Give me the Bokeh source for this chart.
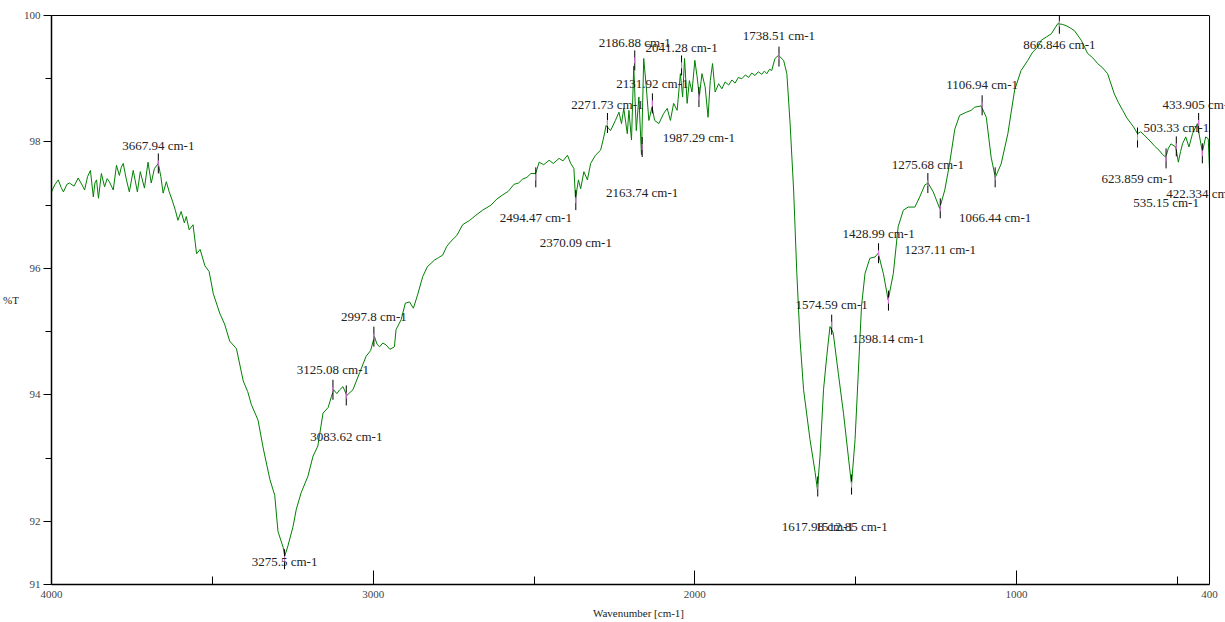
from bokeh.plotting import figure
from bokeh.models import Range1d, FixedTicker, ColumnDataSource, LabelSet, LinearAxis, Span
from bokeh.core.properties import value
from bokeh.embed import file_html
from bokeh.resources import INLINE

# ---- spectrum (wavenumber cm-1, %T) ----
wavenumber = [
    4000, 3990, 3979, 3970, 3963, 3952, 3944, 3930, 3917, 3905, 3897, 3888, 3879, 3870,
    3865, 3860, 3854, 3845, 3835, 3827, 3820, 3808, 3798, 3789, 3783, 3777, 3767, 3758,
    3746, 3733, 3724, 3711, 3700, 3690, 3680, 3668, 3660, 3653, 3643, 3634, 3625, 3615,
    3607, 3597, 3587, 3581, 3572, 3560, 3553, 3549, 3538, 3523, 3510, 3497, 3477, 3462,
    3446, 3425, 3404, 3390, 3379, 3358, 3342, 3321, 3306, 3296, 3280, 3275, 3265, 3249,
    3239, 3224, 3203, 3187, 3172, 3156, 3140, 3130, 3123, 3113, 3104, 3094, 3082, 3063,
    3042, 3022, 3008, 2996, 2988, 2980, 2970, 2960, 2948, 2934, 2929, 2913, 2900, 2887,
    2875, 2862, 2846, 2831, 2820, 2810, 2797, 2784, 2771, 2758, 2740, 2722, 2700, 2681,
    2660, 2634, 2615, 2598, 2580, 2562, 2548, 2536, 2522, 2510, 2495, 2484, 2470, 2453,
    2440, 2422, 2410, 2396, 2386, 2376, 2371, 2362, 2355, 2345, 2334, 2324, 2309, 2293,
    2283, 2276, 2262, 2247, 2236, 2228, 2221, 2210, 2205, 2197, 2190, 2182, 2174, 2166,
    2159, 2151, 2143, 2133, 2125, 2112, 2097, 2086, 2076, 2066, 2055, 2045, 2038, 2032,
    2024, 2017, 2009, 2000, 1993, 1986, 1978, 1968, 1959, 1952, 1945, 1937, 1926, 1916,
    1906, 1895, 1885, 1875, 1865, 1854, 1843, 1833, 1823, 1813, 1803, 1792, 1784, 1776,
    1768, 1761, 1751, 1740, 1724, 1714, 1704, 1693, 1683, 1673, 1662, 1642, 1626, 1619,
    1611, 1600, 1590, 1580, 1570, 1554, 1538, 1523, 1513, 1502, 1492, 1482, 1471, 1456,
    1440, 1430, 1414, 1399, 1383, 1368, 1352, 1337, 1316, 1301, 1285, 1275, 1259, 1239,
    1223, 1208, 1192, 1177, 1156, 1141, 1130, 1110, 1094, 1079, 1066, 1048, 1027, 1006,
    986, 965, 950, 934, 923, 907, 892, 872, 858, 846, 832, 820, 799, 779, 763, 748, 732,
    717, 696, 683, 670, 657, 644, 634, 624, 614, 603, 592, 582, 570, 557, 546, 536, 528,
    520, 505, 497, 490, 484, 474, 464, 453, 438, 427, 422, 412, 404, 400,
]
transmittance = [
    97.21, 97.32, 97.40, 97.28, 97.21, 97.33, 97.35, 97.30, 97.43, 97.32, 97.24, 97.45, 97.55, 97.13,
    97.35, 97.40, 97.11, 97.50, 97.29, 97.42, 97.37, 97.24, 97.63, 97.47, 97.60, 97.66, 97.40, 97.21,
    97.55, 97.21, 97.53, 97.27, 97.68, 97.35, 97.58, 97.66, 97.45, 97.19, 97.37, 97.21, 97.08, 96.92,
    96.76, 96.90, 96.72, 96.82, 96.61, 96.69, 96.40, 96.23, 96.30, 96.04, 95.95, 95.60, 95.29, 95.12,
    94.85, 94.73, 94.22, 94.05, 93.85, 93.60, 93.16, 92.66, 92.41, 91.84, 91.59, 91.45, 91.61, 91.92,
    92.19, 92.45, 92.71, 93.03, 93.19, 93.71, 93.80, 93.97, 94.08, 94.02, 94.08, 94.13, 93.99, 94.08,
    94.35, 94.61, 94.70, 94.92, 94.80, 94.76, 94.82, 94.79, 94.72, 94.76, 95.03, 95.19, 95.45, 95.47,
    95.37, 95.58, 95.87, 96.03, 96.08, 96.13, 96.17, 96.21, 96.35, 96.43, 96.52, 96.69, 96.76, 96.84,
    96.92, 97.00, 97.10, 97.16, 97.22, 97.33, 97.35, 97.41, 97.44, 97.50, 97.50, 97.68, 97.64, 97.71,
    97.66, 97.74, 97.70, 97.79, 97.66, 97.58, 97.10, 97.40, 97.26, 97.53, 97.40, 97.66, 97.79, 97.87,
    98.08, 98.26, 98.18, 98.34, 98.47, 98.29, 98.53, 98.13, 98.50, 98.03, 99.20, 98.18, 98.71, 97.80,
    99.32, 98.87, 98.34, 98.55, 98.34, 98.29, 98.45, 98.53, 98.34, 98.61, 98.50, 99.08, 98.71, 99.32,
    98.61, 98.97, 98.79, 99.29, 99.03, 98.72, 99.08, 98.87, 98.39, 98.97, 99.24, 98.79, 98.92, 98.84,
    98.95, 98.90, 98.98, 98.93, 99.02, 99.00, 99.06, 99.02, 99.09, 99.05, 99.11, 99.07, 99.12, 99.08,
    99.15, 99.13, 99.32, 99.37, 99.29, 99.08, 98.30, 97.24, 95.92, 94.87, 94.08, 93.29, 92.77, 92.50,
    93.03, 94.08, 94.61, 95.08, 94.98, 94.34, 93.71, 93.03, 92.58, 93.29, 94.34, 95.40, 95.92, 96.16,
    96.18, 96.24, 95.92, 95.50, 95.92, 96.66, 96.92, 96.97, 96.97, 97.13, 97.32, 97.35, 97.21, 96.95,
    97.24, 97.66, 98.20, 98.42, 98.47, 98.50, 98.55, 98.57, 98.39, 97.76, 97.44, 97.65, 98.13, 98.82,
    99.13, 99.29, 99.42, 99.50, 99.61, 99.66, 99.71, 99.87, 99.86, 99.84, 99.80, 99.76, 99.61, 99.40,
    99.33, 99.24, 99.17, 99.08, 98.76, 98.62, 98.50, 98.38, 98.29, 98.22, 98.13, 98.16, 98.11, 98.05,
    98.00, 97.93, 97.87, 97.80, 97.76, 97.90, 97.97, 97.92, 97.68, 97.85, 97.97, 98.08, 97.92, 98.13,
    98.29, 97.97, 97.85, 98.08, 98.05, 97.55,
]

# ---- annotated peaks ----
peak_wn = [3667.94, 3275.5, 3125.08, 3083.62, 2997.8, 2494.47, 2370.09, 2271.73, 2186.88,
           2163.74, 2131.92, 2041.28, 1987.29, 1738.51, 1617.98, 1574.59, 1512.85, 1428.99,
           1398.14, 1275.68, 1237.11, 1106.94, 1066.44, 866.846, 623.859, 535.15, 503.33,
           433.905, 422.334]
peak_T = [97.66, 91.40, 94.08, 93.99, 94.92, 97.44, 97.08, 98.30, 99.29,
          97.92, 98.61, 99.21, 98.71, 99.35, 92.55, 95.11, 92.58, 96.24,
          95.49, 97.35, 96.95, 98.58, 97.44, 99.87, 98.07, 97.74, 97.93,
          98.30, 97.82]
peak_text = ["3667.94 cm-1", "3275.5 cm-1", "3125.08 cm-1", "3083.62 cm-1", "2997.8 cm-1",
             "2494.47 cm-1", "2370.09 cm-1", "2271.73 cm-1", "2186.88 cm-1", "2163.74 cm-1",
             "2131.92 cm-1", "2041.28 cm-1", "1987.29 cm-1", "1738.51 cm-1", "1617.98 cm-1",
             "1574.59 cm-1", "1512.85 cm-1", "1428.99 cm-1", "1398.14 cm-1", "1275.68 cm-1",
             "1237.11 cm-1", "1106.94 cm-1", "1066.44 cm-1", "866.846 cm-1", "623.859 cm-1",
             "535.15 cm-1", "503.33 cm-1", "433.905 cm-1", "422.334 cm-1"]
# label offsets in screen pixels (layout only)
label_dy = [18, -2, 20, -41, 20, -40, -42, 18, 18, -45, 20, 18, -40, 21, -40, 20, -42, 20,
            -38, 19, -41, 21, -40, -21, -41, -44, 19, 18, -40]

x_ticks = [4000, 3000, 2000, 1000, 400]
x_minor = [3500, 2500, 1500, 500]
y_ticks = [91, 92, 94, 96, 98, 100]
y_minor = [93, 95, 97, 99]
x_first, x_last = 4000, 400
y_low, y_high = 91, 100

FONT = "Liberation Serif"

# geometry (pixels): plot box from x=48 to 1209, y=15 to 584 in a 1225x622 canvas
W, H = 1225, 622
LEFT, RIGHT_BOX, TOP, BOTTOM = 48, 1209, 15, 584
px_per_wn = (RIGHT_BOX - LEFT) / (x_first - x_last)
x_end = x_last - (W - RIGHT_BOX) / px_per_wn   # let labels run past the box to the canvas edge

p = figure(width=W, height=H, x_range=Range1d(x_first, x_end), y_range=Range1d(y_low, y_high),
           output_backend="svg", toolbar_location=None,
           min_border_left=LEFT, min_border_right=0, min_border_top=TOP,
           min_border_bottom=H - BOTTOM)
p.background_fill_color = "white"
p.border_fill_color = "white"
p.outline_line_color = None
p.xgrid.visible = False
p.ygrid.visible = False

p.line(wavenumber, transmittance, line_color="#008000", line_width=1)

px_per_T = (BOTTOM - TOP) / (y_high - y_low)
half = 10 / px_per_T
p.segment(x0=peak_wn, x1=peak_wn, y0=[t - half for t in peak_T], y1=[t + half for t in peak_T],
          line_color="black", line_width=1)
ph = 3 / px_per_T
p.segment(x0=peak_wn, x1=peak_wn, y0=[t - ph for t in peak_T], y1=[t + ph for t in peak_T],
          line_color="#e87ee8", line_width=1)

src = ColumnDataSource(dict(x=peak_wn, y=peak_T, text=peak_text, dy=label_dy))
labels = LabelSet(x="x", y="y", text="text", y_offset="dy", source=src,
                  text_align="center", text_baseline="middle",
                  text_font=value(FONT), text_font_size="13px", text_color="#222222")
p.add_layout(labels)

# right edge of the plot box
p.add_layout(Span(location=x_last, dimension="height", line_color="black", line_width=1))

# axes
xa = p.xaxis[0]
xa.bounds = (x_last, x_first)
xa.ticker = FixedTicker(ticks=x_ticks, minor_ticks=x_minor)
xa.major_tick_in = 14
xa.major_tick_out = 0
xa.minor_tick_in = 8
xa.minor_tick_out = 0
xa.axis_line_width = 1.5
xa.major_label_text_font = FONT
xa.major_label_text_font_size = "11px"
xa.major_label_standoff = 6
xa.axis_label = "Wavenumber [cm-1]"
xa.axis_label_text_font = FONT
xa.axis_label_text_font_size = "11px"
xa.axis_label_text_font_style = "normal"
xa.axis_label_text_color = "#222222"
xa.axis_label_standoff = 6

top_axis = LinearAxis(bounds=(x_last, x_first), ticker=FixedTicker(ticks=[]),
                      major_tick_in=0, major_tick_out=0, minor_tick_in=0, minor_tick_out=0,
                      major_label_text_font_size="0px", axis_line_width=1)
p.add_layout(top_axis, "above")

ya = p.yaxis[0]
ya.ticker = FixedTicker(ticks=y_ticks, minor_ticks=y_minor)
ya.major_tick_in = 0
ya.major_tick_out = 8
ya.minor_tick_in = 0
ya.minor_tick_out = 6
ya.axis_line_width = 1.5
ya.major_label_text_font = FONT
ya.major_label_text_font_size = "11px"
ya.major_label_standoff = 3
ya.axis_label = "%T"
ya.axis_label_text_font = FONT
ya.axis_label_text_font_size = "11px"
ya.axis_label_text_font_style = "normal"
ya.axis_label_text_color = "#222222"
ya.axis_label_standoff = 2
if hasattr(ya, "axis_label_orientation"):
    ya.axis_label_orientation = "horizontal"

open("out.html", "w").write(file_html(p, INLINE))
